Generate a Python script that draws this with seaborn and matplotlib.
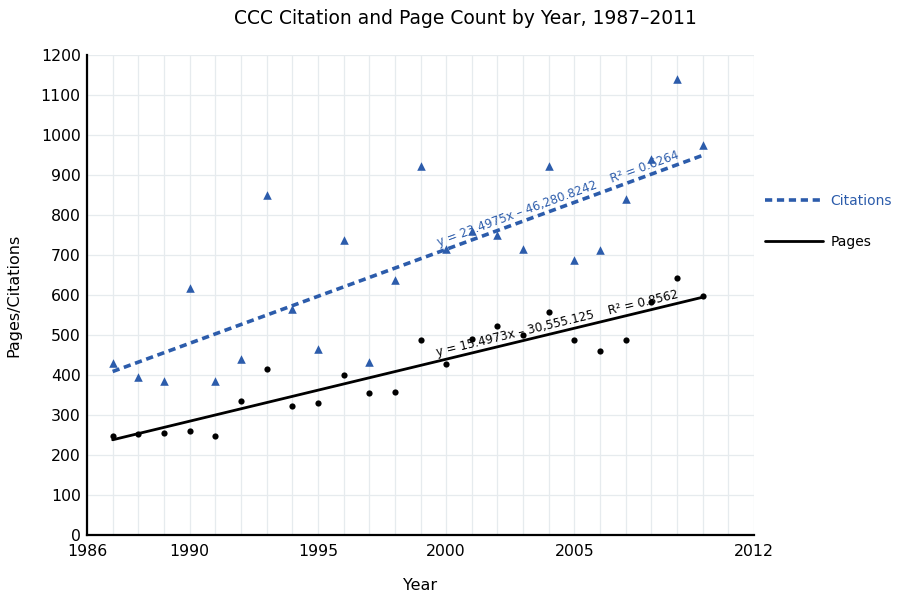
import math
import numpy as np
import pandas as pd
import matplotlib
matplotlib.use("Agg")
import matplotlib.pyplot as plt
import seaborn as sns
from matplotlib.lines import Line2D
from matplotlib.ticker import FixedLocator, MultipleLocator

# ---------------- data ----------------
years = list(range(1987, 2011))
citations = [429, 394, 385, 617, 386, 441, 850, 564, 465, 737, 433, 637,
             923, 714, 760, 750, 714, 923, 687, 712, 841, 941, 1140, 976]
pages = [248, 252, 256, 261, 247, 335, 416, 322, 329, 400, 355, 357,
         487, 427, 489, 522, 499, 558, 487, 459, 487, 582, 643, 597]

cit_slope, cit_intercept = 23.4975, -46280.8242
pag_slope, pag_intercept = 15.4973, -30555.125
cit_label = "y = 23.4975x \u2013 46,280.8242    R\u00b2 = 0.6264"
pag_label = "y = 15.4973x \u2013 30,555.125    R\u00b2 = 0.8562"

x_ticks = [1986, 1990, 1995, 2000, 2005, 2010, 2012]
x_tick_labels = ["1986", "1990", "1995", "2000", "2005", "", "2012"]
y_ticks = list(range(0, 1201, 100))

title = "CCC Citation and Page Count by Year, 1987\u20132011"
series_names = ["Citations", "Pages"]

# ---------------- style ----------------
sns.set_style("white")
plt.rcParams["font.family"] = ["DejaVu Sans"]
plt.rcParams["text.color"] = "black"
plt.rcParams["axes.labelcolor"] = "black"

BLUE = "#2c5cab"
BLACK = "#000000"
GRID = "#e6ebee"

fig = plt.figure(figsize=(8.99, 5.97), dpi=100)
ax = fig.add_axes([87 / 899, 1 - 535 / 597, (754 - 87) / 899, (535 - 55) / 597])

df = pd.DataFrame({"Year": years, "Citations": citations, "Pages": pages})

# trend lines from the fitted coefficients
ends = [years[0], years[-1]]
trend = pd.DataFrame({
    "Year": ends + ends,
    "Value": [cit_slope * x + cit_intercept for x in ends] +
             [pag_slope * x + pag_intercept for x in ends],
    "Series": ["Citations"] * 2 + ["Pages"] * 2,
})
sns.lineplot(data=trend[trend.Series == "Citations"], x="Year", y="Value",
             color=BLUE, lw=2.6, ax=ax, legend=False,
             linestyle=(0, (2.0, 1.3)))
sns.lineplot(data=trend[trend.Series == "Pages"], x="Year", y="Value",
             color=BLACK, lw=2.0, ax=ax, legend=False)

sns.scatterplot(data=df, x="Year", y="Citations", marker="^", s=38,
                color=BLUE, edgecolor=BLUE, linewidth=0, ax=ax, legend=False, zorder=3)
sns.scatterplot(data=df, x="Year", y="Pages", marker="o", s=20,
                color=BLACK, edgecolor=BLACK, linewidth=0, ax=ax, legend=False, zorder=3)

ax.set_xlim(1986, 2012)
ax.set_ylim(0, 1200)

ax.xaxis.set_major_locator(FixedLocator(x_ticks))
ax.set_xticklabels(x_tick_labels)
ax.xaxis.set_minor_locator(MultipleLocator(1))
ax.set_yticks(y_ticks)
ax.set_yticklabels([str(v) for v in y_ticks])

ax.grid(True, which="both", color=GRID, lw=0.9)
ax.set_axisbelow(True)
for s in ["top", "right"]:
    ax.spines[s].set_visible(False)
for s in ["left", "bottom"]:
    ax.spines[s].set_color("black")
    ax.spines[s].set_linewidth(1.6)

ax.tick_params(axis="both", which="major", direction="inout", length=7, width=1.4,
               labelsize=11.3, colors="black", pad=1)
ax.tick_params(axis="x", which="major", pad=3)
ax.tick_params(axis="x", which="minor", direction="inout", length=4, width=1.2)
ax.tick_params(axis="y", which="minor", length=0)

ax.set_xlabel("Year", fontsize=11.5, labelpad=14)
ax.set_ylabel("Pages/Citations", fontsize=11.5, labelpad=14)

fig.text(465 / 899, 1 - 19 / 597, title, ha="center", va="center", fontsize=13.5,
         color="black")

# equation annotations along the lines
def angle_of(slope, intercept):
    p1 = ax.transData.transform((years[0], slope * years[0] + intercept))
    p2 = ax.transData.transform((years[-1], slope * years[-1] + intercept))
    return math.degrees(math.atan2(p2[1] - p1[1], p2[0] - p1[0]))

for slope, intercept, xc, lab, col, off in [
    (cit_slope, cit_intercept, 2004.5, cit_label, BLUE, 6.5),
    (pag_slope, pag_intercept, 2004.4, pag_label, BLACK, 6.0),
]:
    ang = angle_of(slope, intercept)
    r = math.radians(ang)
    ax.annotate(lab, xy=(xc, slope * xc + intercept),
                xytext=(-off * math.sin(r), off * math.cos(r)),
                textcoords="offset points", rotation=ang, rotation_mode="anchor",
                ha="center", va="center", fontsize=8.6, color=col, zorder=4)

handles = [Line2D([], [], color=BLUE, lw=2.6, linestyle=(0, (2.0, 1.3))),
           Line2D([], [], color=BLACK, lw=2.0)]
leg = fig.legend(handles, series_names, loc="upper left",
                 bbox_to_anchor=(765 / 899, 1 - 194 / 597), frameon=False,
                 fontsize=10, handlelength=4.2, handletextpad=0.5,
                 labelspacing=1.95, borderpad=0, borderaxespad=0)
leg.get_texts()[0].set_color(BLUE)
leg.get_texts()[1].set_color(BLACK)

fig.savefig("out.png", dpi=100)
